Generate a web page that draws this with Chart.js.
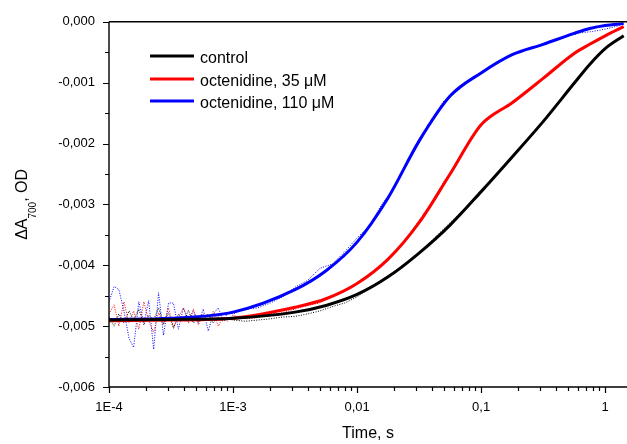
<!DOCTYPE html>
<html lang="en">
<head>
<meta charset="UTF-8">
<title>P700 kinetics</title>
<script src="https://cdn.jsdelivr.net/npm/chart.js"></script>
<style>
  body { margin: 0; background: #fff; }
  #wrap { width: 627px; height: 444px; }
</style>
</head>
<body>
<div id="wrap"><canvas id="kinetics" width="627" height="444"></canvas></div>
<script>
// fitted curves (s, OD)
const fitTime = [1e-4, 3.16e-4, 1e-3, 3.16e-3, 5.62e-3, 0.01, 0.0178, 0.0316, 0.0562, 0.1, 0.178, 0.316, 0.562, 0.75, 1, 1.41];
const controlFit = [-4.90e-3, -4.89e-3, -4.87e-3, -4.77e-3, -4.66e-3, -4.48e-3, -4.19e-3, -3.80e-3, -3.34e-3, -2.79e-3, -2.22e-3, -1.64e-3, -1.01e-3, -0.70e-3, -0.44e-3, -0.23e-3];
const oct35Fit   = [-4.91e-3, -4.90e-3, -4.87e-3, -4.69e-3, -4.55e-3, -4.30e-3, -3.90e-3, -3.30e-3, -2.50e-3, -1.69e-3, -1.33e-3, -0.93e-3, -0.52e-3, -0.37e-3, -0.23e-3, -0.08e-3];
const oct110Fit  = [-4.89e-3, -4.87e-3, -4.77e-3, -4.40e-3, -4.09e-3, -3.62e-3, -2.89e-3, -1.96e-3, -1.22e-3, -0.84e-3, -0.54e-3, -0.37e-3, -0.19e-3, -0.11e-3, -0.06e-3, -0.03e-3];

// raw traces (dotted)
const rawTime = [
  1.00e-4, 1.10e-4, 1.20e-4, 1.32e-4, 1.45e-4, 1.58e-4, 1.74e-4, 1.91e-4, 2.09e-4, 2.29e-4,
  2.51e-4, 2.75e-4, 3.02e-4, 3.31e-4, 3.63e-4, 3.98e-4, 4.37e-4, 4.79e-4, 5.25e-4, 5.75e-4,
  6.31e-4, 6.92e-4, 7.59e-4, 8.32e-4, 9.12e-4, 1.00e-3,
  1.26e-3, 1.58e-3, 2.00e-3, 2.51e-3, 3.16e-3, 3.98e-3, 5.01e-3, 6.31e-3, 7.94e-3, 0.0100,
  0.0126, 0.0158, 0.0200, 0.0251, 0.0316, 0.0398, 0.0501, 0.0631, 0.0794, 0.100,
  0.126, 0.158, 0.200, 0.251, 0.316, 0.398, 0.501, 0.631, 0.794, 1.00, 1.26, 1.41
];
const controlRaw = [
  -4.85e-3, -5.00e-3, -4.80e-3, -4.95e-3, -4.75e-3, -4.90e-3, -4.72e-3, -4.98e-3, -4.82e-3, -4.90e-3,
  -4.70e-3, -4.96e-3, -4.78e-3, -5.04e-3, -4.80e-3, -4.92e-3, -4.74e-3, -4.95e-3, -4.85e-3, -4.90e-3,
  -4.80e-3, -4.95e-3, -4.85e-3, -4.92e-3, -4.88e-3, -4.90e-3,
  -4.92e-3, -4.90e-3, -4.88e-3, -4.85e-3, -4.84e-3, -4.80e-3, -4.75e-3, -4.68e-3, -4.62e-3, -4.52e-3,
  -4.38e-3, -4.24e-3, -4.10e-3, -3.96e-3, -3.80e-3, -3.60e-3, -3.40e-3, -3.20e-3, -3.00e-3, -2.79e-3,
  -2.56e-3, -2.33e-3, -2.10e-3, -1.87e-3, -1.64e-3, -1.39e-3, -1.14e-3, -0.88e-3, -0.64e-3, -0.44e-3, -0.29e-3, -0.23e-3
];
const oct35Raw = [
  -4.80e-3, -4.65e-3, -5.00e-3, -4.60e-3, -4.95e-3, -4.75e-3, -5.05e-3, -4.60e-3, -4.92e-3, -5.10e-3,
  -4.78e-3, -4.98e-3, -4.70e-3, -5.02e-3, -4.85e-3, -4.70e-3, -4.95e-3, -4.72e-3, -4.98e-3, -4.80e-3,
  -4.92e-3, -4.76e-3, -5.00e-3, -4.85e-3, -4.92e-3, -4.82e-3,
  -4.88e-3, -4.86e-3, -4.80e-3, -4.78e-3, -4.72e-3, -4.66e-3, -4.62e-3, -4.50e-3, -4.42e-3, -4.30e-3,
  -4.18e-3, -3.98e-3, -3.80e-3, -3.55e-3, -3.26e-3, -2.98e-3, -2.62e-3, -2.36e-3, -1.98e-3, -1.70e-3,
  -1.55e-3, -1.40e-3, -1.25e-3, -1.10e-3, -0.93e-3, -0.78e-3, -0.62e-3, -0.47e-3, -0.35e-3, -0.23e-3, -0.12e-3, -0.08e-3
];
const oct110Raw = [
  -4.60e-3, -4.35e-3, -4.40e-3, -4.75e-3, -5.20e-3, -5.35e-3, -4.60e-3, -4.95e-3, -4.58e-3, -5.38e-3,
  -4.45e-3, -5.15e-3, -4.62e-3, -4.62e-3, -5.05e-3, -4.70e-3, -4.90e-3, -4.75e-3, -4.95e-3, -4.72e-3,
  -5.08e-3, -4.80e-3, -4.70e-3, -4.90e-3, -4.78e-3, -4.80e-3,
  -4.72e-3, -4.70e-3, -4.62e-3, -4.52e-3, -4.36e-3, -4.25e-3, -4.05e-3, -3.98e-3, -3.78e-3, -3.55e-3,
  -3.35e-3, -3.00e-3, -2.72e-3, -2.30e-3, -1.92e-3, -1.60e-3, -1.30e-3, -1.15e-3, -0.98e-3, -0.83e-3,
  -0.72e-3, -0.60e-3, -0.50e-3, -0.43e-3, -0.36e-3, -0.30e-3, -0.24e-3, -0.18e-3, -0.16e-3, -0.12e-3, -0.07e-3, -0.03e-3
];

const seriesLabels = ['control', 'octenidine, 35 \u03bcM', 'octenidine, 110 \u03bcM'];
const seriesColors = ['#000000', '#ff0000', '#0000ff'];

const xTicks = [1e-4, 1e-3, 0.01, 0.1, 1];
const xTickLabels = ['1E-4', '1E-3', '0,01', '0,1', '1'];
const yTicks = [-0.006, -0.005, -0.004, -0.003, -0.002, -0.001, 0];
const yTickLabels = ['-0,006', '-0,005', '-0,004', '-0,003', '-0,002', '-0,001', '0,000'];

const FONT = '"Liberation Sans", Arial, sans-serif';

function xy(times, values) {
    return times.map((t, i) => ({ x: t, y: values[i] }));
}

const fits = [controlFit, oct35Fit, oct110Fit];
const raws = [controlRaw, oct35Raw, oct110Raw];

const datasets = [];
fits.forEach((vals, i) => {
    datasets.push({
        label: seriesLabels[i],
        data: xy(fitTime, vals),
        borderColor: seriesColors[i],
        borderWidth: 3,
        pointRadius: 0,
        cubicInterpolationMode: 'monotone',
        order: 0
    });
});
raws.forEach((vals, i) => {
    datasets.push({
        label: seriesLabels[i] + ' (raw)',
        data: xy(rawTime, vals),
        borderColor: seriesColors[i],
        borderWidth: 1,
        borderDash: [1, 1.5],
        pointRadius: 0,
        tension: 0,
        order: 1
    });
});

// axes, ticks, titles and legend drawn the Origin way
const decor = {
    id: 'decor',
    afterDraw(chart) {
        const { ctx, chartArea: a, scales: { x, y } } = chart;
        ctx.save();
        ctx.strokeStyle = '#000';
        ctx.lineWidth = 1.4;
        ctx.beginPath();
        ctx.moveTo(a.left, a.top); ctx.lineTo(a.right, a.top);
        ctx.moveTo(a.left, a.top); ctx.lineTo(a.left, a.bottom);
        ctx.lineTo(a.right, a.bottom);
        ctx.stroke();

        ctx.lineWidth = 1.2;
        ctx.beginPath();
        for (let d = -4; d <= 0; d++) {
            for (let m = 1; m <= 9; m++) {
                const v = m * Math.pow(10, d);
                if (v > x.max) continue;
                const px = Math.round(x.getPixelForValue(v)) + 0.5;
                const len = m === 1 ? 6 : 4;
                ctx.moveTo(px, a.bottom); ctx.lineTo(px, a.bottom + len);
            }
        }
        yTicks.forEach((v, i) => {
            const py = Math.round(y.getPixelForValue(v)) + 0.5;
            ctx.moveTo(a.left, py); ctx.lineTo(a.left - 6, py);
            if (i < yTicks.length - 1) {
                const pm = Math.round(y.getPixelForValue((v + yTicks[i + 1]) / 2)) + 0.5;
                ctx.moveTo(a.left, pm); ctx.lineTo(a.left - 4, pm);
            }
        });
        ctx.stroke();

        // axis titles
        ctx.fillStyle = '#000';
        ctx.font = '16px ' + FONT;
        ctx.textAlign = 'center';
        ctx.textBaseline = 'alphabetic';
        ctx.fillText('Time, s', (a.left + a.right) / 2, 438);

        ctx.save();
        ctx.translate(27, (a.top + a.bottom) / 2);
        ctx.rotate(-Math.PI / 2);
        ctx.textAlign = 'left';
        const p1 = '\u0394A', sub = '700', p2 = ', OD';
        ctx.font = '16px ' + FONT;
        const w1 = ctx.measureText(p1).width, w3 = ctx.measureText(p2).width;
        ctx.font = '10px ' + FONT;
        const w2 = ctx.measureText(sub).width;
        let cx = -(w1 + w2 + w3) / 2;
        ctx.font = '16px ' + FONT;
        ctx.fillText(p1, cx, 0); cx += w1;
        ctx.font = '10px ' + FONT;
        ctx.fillText(sub, cx, 9); cx += w2;
        ctx.font = '16px ' + FONT;
        ctx.fillText(p2, cx, 0);
        ctx.restore();

        // legend
        ctx.font = '16px ' + FONT;
        ctx.textAlign = 'left';
        const rows = [56, 79, 101];
        seriesLabels.forEach((lab, i) => {
            ctx.strokeStyle = seriesColors[i];
            ctx.lineWidth = 3;
            ctx.beginPath();
            ctx.moveTo(150, rows[i]); ctx.lineTo(194, rows[i]);
            ctx.stroke();
            ctx.fillText(lab, 200, rows[i] + 6.5);
        });
        ctx.restore();
    }
};

new Chart(document.getElementById('kinetics'), {
    type: 'line',
    data: { datasets },
    options: {
        responsive: false,
        animation: false,
        layout: { padding: { top: 18, right: 0, left: 0, bottom: 0 } },
        plugins: { legend: { display: false }, tooltip: { enabled: false } },
        scales: {
            x: {
                type: 'logarithmic',
                min: 1e-4,
                max: 1.5,
                grid: { display: false, drawTicks: false },
                border: { display: false },
                afterBuildTicks: s => { s.ticks = xTicks.map(v => ({ value: v })); },
                afterFit: s => { s.height = 57; },
                ticks: {
                    autoSkip: false,
                    maxRotation: 0,
                    padding: 13,
                    color: '#000',
                    font: { family: FONT, size: 13 },
                    callback: (v, i) => xTickLabels[i]
                }
            },
            y: {
                min: -0.006,
                max: 0,
                grid: { display: false, drawTicks: false },
                border: { display: false },
                afterBuildTicks: s => { s.ticks = yTicks.map(v => ({ value: v })); },
                afterFit: s => { s.width = 109; },
                ticks: {
                    padding: 14,
                    color: '#000',
                    font: { family: FONT, size: 13 },
                    callback: (v, i) => yTickLabels[i]
                }
            }
        }
    },
    plugins: [decor]
});
</script>
</body>
</html>
